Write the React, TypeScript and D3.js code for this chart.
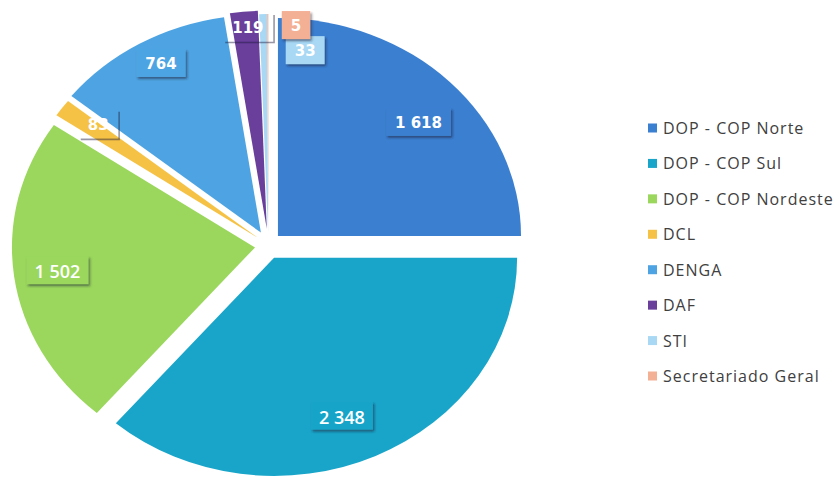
import React, { useMemo } from "react";
import * as d3 from "d3";

// ---- data ----
const categories = [
  "DOP - COP Norte",
  "DOP - COP Sul",
  "DOP - COP Nordeste",
  "DCL",
  "DENGA",
  "DAF",
  "STI",
  "Secretariado Geral",
];
const values = [1618, 2348, 1502, 83, 764, 119, 33, 5];
const colors = [
  "#3b7fd1",
  "#19a5c9",
  "#9ad75c",
  "#f6c245",
  "#4ea4e2",
  "#6a3f9c",
  "#a8d8f4",
  "#f3b095",
];

// ---- layout / style ----
const W = 839;
const H = 477;
const CX = 268.4;
const CY = 245.6;
const R = 218;
const SX = 1.115; // horizontal stretch of the pie (ellipse)
const DEFAULT_EXPLODE = 13.5;
const explode: Record<string, number> = { DENGA: 15, DAF: 17 };
// label radius factor (f) and angular shift in degrees (da)
const labelPlace: Record<string, { f: number; da: number }> = {
  "DOP - COP Norte": { f: 0.777, da: 3.1 },
  "DOP - COP Sul": { f: 0.78, da: 3.7 },
  "DOP - COP Nordeste": { f: 0.82, da: 0 },
  DCL: { f: 0.835, da: 1.8 },
  DENGA: { f: 0.876, da: 2 },
  DAF: { f: 0.924, da: 0.6 },
  STI: { f: 0.844, da: 11.6 },
  "Secretariado Geral": { f: 0.952, da: 7 },
};
const bigLabels = new Set(["DOP - COP Sul", "DOP - COP Nordeste"]);
const shadowOnly = new Set(["DCL", "DAF"]);
const SMALL_FONT = "bold 15px 'DejaVu Sans'";
const BIG_FONT = "600 18px 'Open Sans'";

const fmt = d3
  .formatLocale({ decimal: ",", thousands: " ", grouping: [3], currency: ["", ""] })
  .format(",d");

let ctx: CanvasRenderingContext2D | null = null;
function textWidth(t: string, font: string) {
  if (!ctx) ctx = document.createElement("canvas").getContext("2d");
  if (!ctx) return t.length * 9;
  ctx.font = font;
  return ctx.measureText(t).width;
}

export default function App() {
  const arcs = useMemo(
    () =>
      d3
        .pie<number>()
        .sort(null)
        .value((d) => d)
        .startAngle(0)
        .endAngle(2 * Math.PI)(values),
    []
  );
  const arcGen = d3.arc<d3.PieArcDatum<number>>().innerRadius(0).outerRadius(R);

  const items = arcs.map((a, i) => {
    const name = categories[i];
    const mid = (a.startAngle + a.endAngle) / 2;
    const d = explode[name] ?? DEFAULT_EXPLODE;
    const ox = d * Math.sin(mid);
    const oy = -d * Math.cos(mid);
    const lp = labelPlace[name];
    const la = mid + (lp.da * Math.PI) / 180;
    const lx = CX + ox + lp.f * R * Math.sin(la) * SX;
    const ly = CY + oy - lp.f * R * Math.cos(la);
    const big = bigLabels.has(name);
    const text = fmt(values[i]);
    const tw = textWidth(text, big ? BIG_FONT : SMALL_FONT);
    return { a, i, name, ox, oy, lx, ly, big, text, tw };
  });

  const legendY = d3.scalePoint<string>().domain(categories).range([128, 376]);

  return (
    <div style={{ position: "absolute", left: 0, top: 0, width: W, height: H }}>
      <svg width={W} height={H} style={{ display: "block", background: "#fff" }}>
        <defs>
          <filter id="lblShadow" x="-30%" y="-30%" width="160%" height="160%">
            <feDropShadow dx="1.5" dy="2" stdDeviation="1" floodColor="#1a1a3a" floodOpacity="0.55" />
          </filter>
          <filter id="lineBlur" x="-20%" y="-50%" width="140%" height="200%">
            <feGaussianBlur stdDeviation="0.7" />
          </filter>
        </defs>
        <g>
          {items.map((it) => (
            <path
              key={it.name}
              d={arcGen(it.a) || ""}
              fill={colors[it.i]}
              transform={`translate(${CX + it.ox},${CY + it.oy}) scale(${SX},1)`}
            />
          ))}
        </g>
        <g>
          {items.map((it) => {
            const padH = it.big ? 8 : 9;
            const bw = it.tw + padH * 2;
            const bh = 28;
            const x0 = it.lx - bw / 2;
            const y0 = it.ly - 1 - bh / 2;
            return (
              <g key={it.name}>
                {shadowOnly.has(it.name) ? (
                  <path
                    d={`M${x0 + 2},${y0 + bh + 1.5}H${x0 + bw + 1.5}V${y0 + 2}`}
                    fill="none"
                    stroke="#1a1a3a"
                    strokeOpacity={0.45}
                    strokeWidth={1.6}
                    filter="url(#lineBlur)"
                  />
                ) : (
                  <rect
                    x={x0}
                    y={y0}
                    width={bw}
                    height={bh}
                    fill={colors[it.i]}
                    filter="url(#lblShadow)"
                  />
                )}
                <text
                  x={it.lx}
                  y={it.ly}
                  textAnchor="middle"
                  dominantBaseline="central"
                  fill="#ffffff"
                  style={{
                    font: it.big ? BIG_FONT : SMALL_FONT,
                  }}
                >
                  {it.text}
                </text>
              </g>
            );
          })}
        </g>
        <g>
          {categories.map((c, i) => {
            const y = legendY(c) ?? 0;
            return (
              <g key={c}>
                <rect x={648} y={y - 4.5} width={9} height={9} fill={colors[i]} />
                <text
                  x={663}
                  y={y}
                  dominantBaseline="central"
                  fill="#404040"
                  style={{ fontFamily: "'Open Sans'", fontSize: 16, letterSpacing: "1px" }}
                >
                  {c}
                </text>
              </g>
            );
          })}
        </g>
      </svg>
    </div>
  );
}
